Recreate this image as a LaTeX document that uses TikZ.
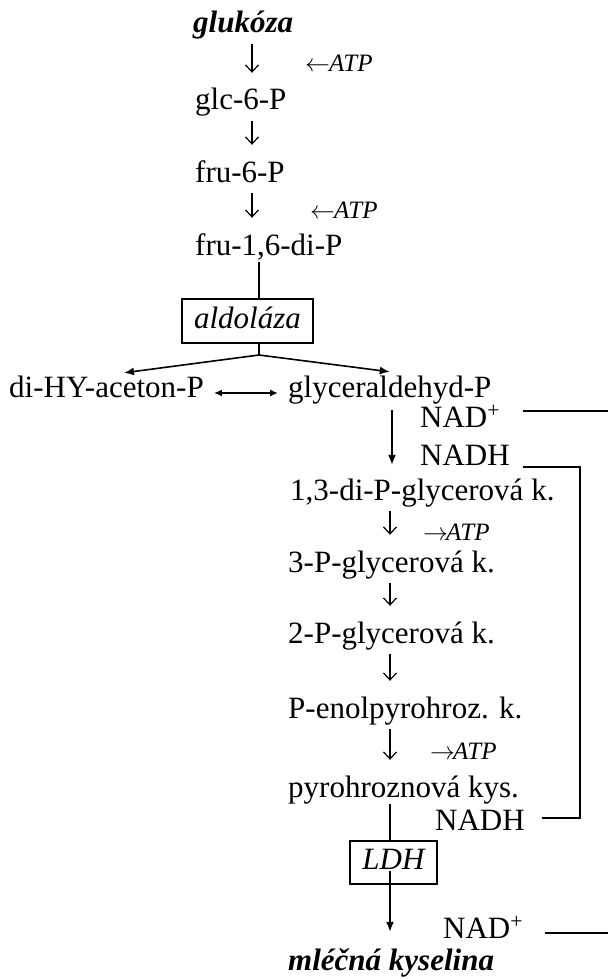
\documentclass[tikz,border=0pt]{standalone}
\usepackage{fontspec}
\setmainfont{Liberation Serif}
\usetikzlibrary{arrows.meta}
\begin{document}
\begin{tikzpicture}[x=1pt,y=1pt,
  lbl/.style={anchor=base west, inner sep=0pt, text height=21pt, text depth=7pt,
    font=\fontsize{31}{36}\selectfont},
  keyl/.style={lbl, font=\fontsize{31}{36}\selectfont\bfseries\itshape},
  atp/.style={anchor=base west, inner sep=0pt, font=\fontsize{25}{30}\selectfont\itshape},
  enz/.style={draw, line width=1.1pt, inner sep=0pt, text height=21pt, text depth=7pt,
    font=\fontsize{31}{36}\selectfont\itshape},
  thinarr/.style={line width=1.2pt, -{Straight Barb[length=7pt,width=13pt]},
    shorten <=4pt, shorten >=16pt},
  thk/.style={line width=1.6pt, -{Latex[length=10pt,width=8pt]}},
  dbl/.style={line width=1.6pt, {Latex[length=8pt,width=7pt]}-{Latex[length=8pt,width=7pt]},
    shorten <=10pt, shorten >=10pt},
  ln/.style={line width=1.3pt}
]
\useasboundingbox (0,0) rectangle (608,-979);
\coordinate (colA) at (252,0);
\coordinate (colF) at (259,0);
\coordinate (colB) at (390,0);
\coordinate (colC) at (392,0);
\coordinate (fork) at (259,-355);
\coordinate (r1) at (608,-411);
\coordinate (bt) at (580,-467);
\coordinate (bb) at (580,-818);
\coordinate (r2) at (608,-933);

% upper chain
\node[keyl] (glu) at (193,-33) {glukóza};
\node[lbl] (glc) at (195,-110) {glc-6-P};
\node[lbl] (fru6) at (195,-182) {fru-6-P};
\node[lbl] (fru16) at (195,-255) {fru-1,6-di-P};
\node[atp] (atp1) at (305,-72) {$\leftarrow$\kern-1pt ATP};
\node[atp] (atp2) at (310,-218) {$\leftarrow$\kern-1pt ATP};

\draw[thinarr] (glu.south -| colA) -- (glc.north -| colA);
\draw[thinarr] (glc.south -| colA) -- (fru6.north -| colA);
\draw[thinarr] (fru6.south -| colA) -- (fru16.north -| colA);

% aldolase
\node[enz, minimum width=131pt, minimum height=44pt] (ald) at (247.5,-321) {aldoláza};
\draw[ln] (fru16.south -| colF) -- (ald.north -| colF);

\node[lbl] (dhap) at (9,-397) {di-HY-aceton-P};
\node[lbl] (glyc) at (288,-397) {glyceraldehyd-P};
\draw[thk] (ald.south -| fork) -- (fork) -- ([xshift=17.5pt,yshift=3pt]dhap.north);
\draw[thk] (fork) -- ([yshift=4pt]glyc.north);
\draw[dbl] ([yshift=-3pt]dhap.east) -- ([yshift=-3pt]glyc.west);

% NAD / NADH
\node[lbl] (nad1) at (420,-427) {NAD\textsuperscript{+}};
\node[lbl] (nadh1) at (420,-465) {NADH};
\node[lbl] (bpg) at (290,-500) {1,3-di-P-glycerová k.};
\draw[thk, shorten <=6pt, shorten >=14pt] (glyc.south -| colC) -- (bpg.north -| colC);

\draw[ln, shorten <=23pt] (nad1.east |- r1) -- (r1);

% lower chain
\node[lbl] (pg3) at (288,-572) {3-P-glycerová k.};
\node[lbl] (pg2) at (288,-643) {2-P-glycerová k.};
\node[lbl] (pep) at (288,-718) {P-enolpyrohroz. k.};
\node[lbl] (pyr) at (288,-797) {pyrohroznová kys.};
\node[atp] (atp3) at (423,-540) {$\rightarrow$\kern-2pt ATP};
\node[atp] (atp4) at (430,-759) {$\rightarrow$\kern-2pt ATP};

\draw[thinarr] (bpg.south -| colB) -- (pg3.north -| colB);
\draw[thinarr] (pg3.south -| colB) -- (pg2.north -| colB);
\draw[thinarr] (pg2.south -| colB) -- (pep.north -| colB);
\draw[thinarr] (pep.south -| colB) -- (pyr.north -| colB);

% LDH
\node[lbl] (nadh2) at (435,-830) {NADH};
\node[enz, minimum width=87pt, minimum height=43pt] (ldh) at (393.5,-862.5) {LDH};
\node[lbl] (nad2) at (443,-938) {NAD\textsuperscript{+}};
\node[keyl] (mlk) at (288,-970) {mléčná kyselina};

\draw[ln] (pyr.south -| colB) -- (ldh.north -| colB);
\draw[thk, shorten <=8pt, shorten >=17pt] (ldh.center -| colB) -- (mlk.north -| colB);

\draw[ln, shorten <=13pt, shorten >=17pt] (nadh1.east |- bt) -- (bt) -- (bb) -- (nadh2.east |- bb);
\draw[ln, shorten <=22pt] (nad2.east |- r2) -- (r2);
\end{tikzpicture}
\end{document}
